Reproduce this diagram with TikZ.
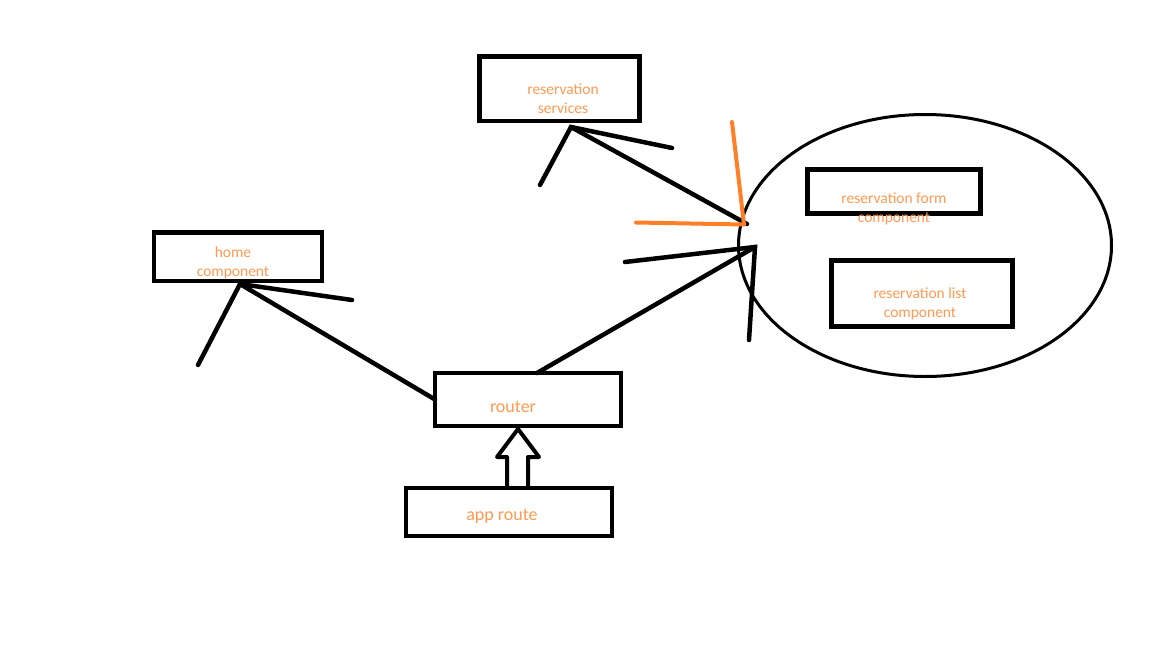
\documentclass[tikz,border=0pt]{standalone}
\usepackage{fontspec}
\setmainfont{Carlito}
\usetikzlibrary{calc,shapes.geometric}
\definecolor{paintorange}{HTML}{FF7F27}
\definecolor{labelorange}{HTML}{FF9A52}
\begin{document}
\begin{tikzpicture}[x=1pt,y=-1pt,
  box/.style={draw=black,line width=4.5pt,rectangle,inner sep=0pt,outer sep=0pt},
  group/.style={draw=black,line width=3pt,ellipse,inner sep=0pt,outer sep=0pt},
  wire/.style={draw=black,line width=4.5pt,line cap=round},
  tick/.style={draw=paintorange,line width=4pt,line cap=round},
  lbl/.style={text=labelorange,inner sep=0pt,anchor=base,font=\fontsize{15.5}{19}\selectfont},
  biglbl/.style={lbl,font=\fontsize{18}{22}\selectfont},
  hollow/.style={draw=black,line width=4pt,line join=round,line cap=butt}]
\useasboundingbox[fill=white] (0,0) rectangle (1152,648);

% boxes
\node[box,minimum width=160,minimum height=64.5] (rs) at (559.5,88.75) {};
\node[box,minimum width=168,minimum height=48.5] (home) at (238,256.75) {};
\node[box,minimum width=186,minimum height=53] (router) at (528,399.5) {};
\node[box,minimum width=206,minimum height=48] (app) at (509,512) {};
\node[group,minimum width=373,minimum height=262] (grp) at (925,245.5) {};
\node[box,minimum width=173,minimum height=44] (form) at (894,191.5) {};
\node[box,minimum width=181,minimum height=66] (list) at (922,293.5) {};

% labels
\node[lbl] (rs1) at (563,94) {reservation};
\node[lbl] (rs2) at (563,113) {services};
\node[lbl] (home1) at (233,257) {home};
\node[lbl] (home2) at (233,276) {component};
\node[biglbl] (router1) at (513,412) {router};
\node[biglbl] (app1) at (502,520) {app route};
\node[lbl] (form1) at (894,203) {reservation form};
\node[lbl] (form2) at (894,222) {component};
\node[lbl] (list1) at (920,298) {reservation list};
\node[lbl] (list2) at (920,317) {component};

% arrow tips and free ends
\coordinate (rsTip) at (571,127);
\coordinate (rsL) at (540,185);
\coordinate (rsR) at (672,148);
\coordinate (rsEnd) at (747,224);
\coordinate (hcTip) at (240,284);
\coordinate (hcL) at (198,365);
\coordinate (hcR) at (352,300);
\coordinate (elTip) at (755,247);
\coordinate (elL) at (625,262);
\coordinate (elD) at (749,340);
\coordinate (orTip) at (744,224.5);
\coordinate (orUp) at (732,122);
\coordinate (orLeft) at (636,222.5);

% connectors
\draw[wire] (rsEnd) -- (rsTip);
\draw[wire] (rsL) -- (rsTip) -- (rsR);
\draw[wire] (router.west) -- (hcTip);
\draw[wire] (hcL) -- (hcTip) -- (hcR);
\draw[wire] ([xshift=9pt]router.north) -- (elTip);
\draw[wire] (elL) -- (elTip) -- (elD);
\draw[tick] (orUp) -- (orTip);
\draw[tick] (orLeft) -- (orTip);

% hollow arrow from app route up to router
\draw[hollow] ([xshift=-2pt]app.north) -- ++(0,-31) -- ++(-10,0)
  -- ([xshift=-10pt,yshift=-3pt]router.south) -- ++(21,28) -- ++(-11,0)
  -- ([xshift=19pt]app.north);
\end{tikzpicture}
\end{document}
